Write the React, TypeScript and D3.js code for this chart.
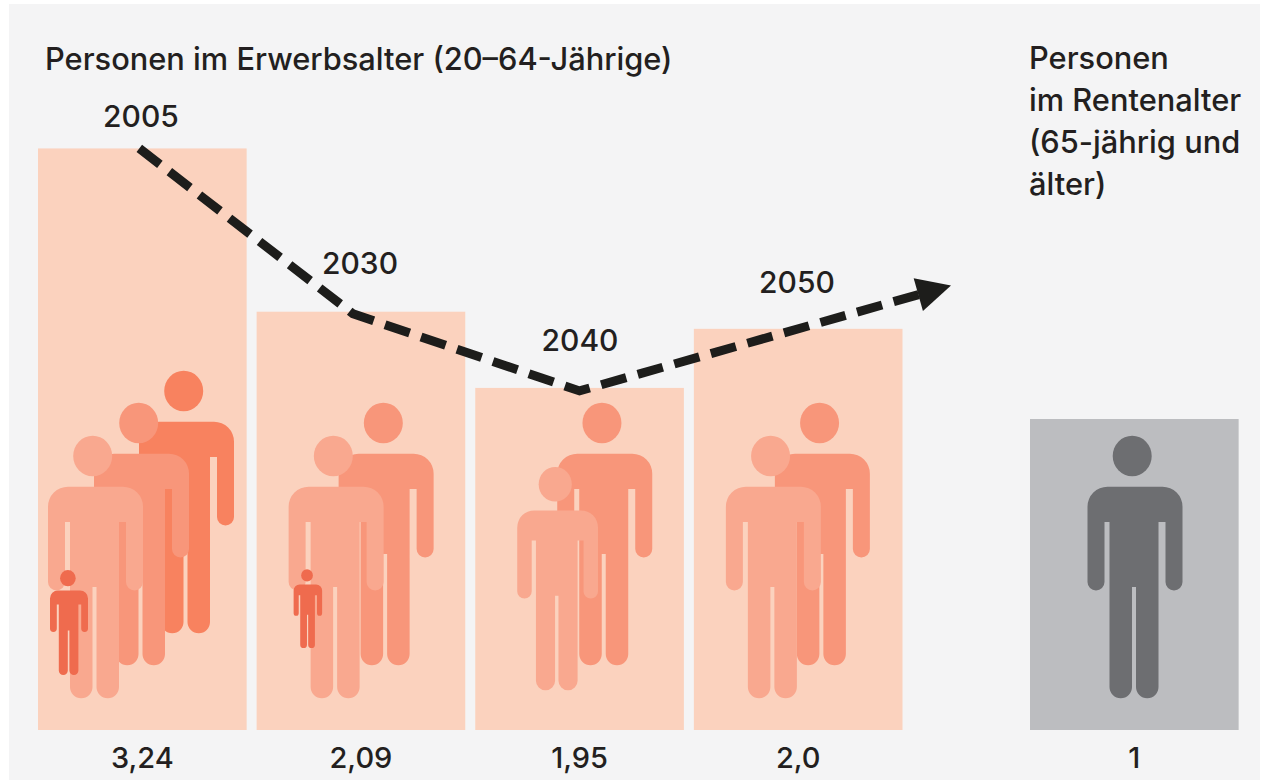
import { scaleBand, scaleLinear, line, curveLinear } from 'd3';

// Ratio of working-age persons per retiree, with the bar heights as drawn in the source
const YEARS = ['2005', '2030', '2040', '2050'];
const RATIO_LABELS = ['3,24', '2,09', '1,95', '2,0'];
const BAR_LEVELS = [1.87, 1.345, 1.1, 1.29];
const RETIREE_LEVEL = 1;
const RETIREE_LABEL = '1';
const TITLE_WORKING = 'Personen im Erwerbsalter (20–64-Jährige)';
const TITLE_RETIRED = ['Personen', 'im Rentenalter', '(65-jährig und', 'älter)'];

// Size of each pictogram in a bar, back to front
const PERSON_SIZES = [
  [1, 1, 1, 0.4],
  [1, 1, 0.3],
  [1, 0.85],
  [1, 1],
];

const WIDTH = 1262;
const HEIGHT = 782;
const BAR_BOTTOM = 730;
const UNIT_HEIGHT = 311;
const FIGURE_FOOT = 698;
const RETIREE_X = 1030;

const BG = '#f4f4f5';
const BAR_COLOR = '#fbd2be';
const GREY_BAR = '#bcbdc0';
const GREY_FIGURE = '#6d6e71';
const INK = '#231f20';
const SHADES = {
  3: ['#f8825f', '#f8967a', '#f9a88f'],
  2: ['#f8967a', '#f9a88f'],
};
const SMALL_COLOR = '#ef6b4e';
const FONT = "Inter, 'Liberation Sans', Arial, sans-serif";

// Pictogram placement inside a band: left offset and lift above the foot line
const PLACEMENT = [
  [[101, 65], [56, 33], [10, 0], [12, 23]],
  [[82, 33], [32, 0], [37, 50]],
  [[82, 33], [42, 8]],
  [[81, 33], [32, 0]],
];

// One person, 95 wide and 262 tall at size 1
const BODY =
  'M20 50.7H75a20 20 0 0 1 20 20V146a8.5 8.5 0 0 1-17 0V86h-7V251a11.25 11.25 0 0 1-22.5 0V151h-4V251a11.25 11.25 0 0 1-22.5 0V86H17V146a8.5 8.5 0 0 1-17 0V70.7a20 20 0 0 1 20-20Z';

function Person({ x, foot, size, fill }: { x: number; foot: number; size: number; fill: string }) {
  return (
    <g transform={`translate(${x},${foot - 262 * size}) scale(${size})`} fill={fill}>
      <ellipse cx={44.7} cy={20} rx={19.5} ry={20.3} />
      <path d={BODY} />
    </g>
  );
}

export default function App() {
  const x = scaleBand<string>().domain(YEARS).range([38, 902.5]).paddingInner(0.0457);
  const y = scaleLinear().domain([0, 1]).range([BAR_BOTTOM, BAR_BOTTOM - UNIT_HEIGHT]);
  const bw = x.bandwidth();

  // Trend runs over the bar tops, then carries on past the last bar to the arrow
  const pts: [number, number][] = YEARS.map((yr, i) => [
    x(yr)! + bw / 2 + (i === 0 ? -3 : i === 1 ? -8 : 0),
    y(BAR_LEVELS[i]) + (i === 1 ? 2 : i === 2 ? 3 : 0),
  ]);
  const [x0, y0] = pts[2];
  const [x1, y1] = pts[3];
  const slope = (y1 - y0) / (x1 - x0);
  const endX = 926;
  const trend = [...pts.slice(0, 3), [endX, y0 + slope * (endX - x0)] as [number, number]];
  const trendPath = line().curve(curveLinear)(trend) ?? '';
  const angle = (Math.atan(slope) * 180) / Math.PI;
  const [ax, ay] = trend[trend.length - 1];

  const text = { fontFamily: FONT, fontWeight: 500, fill: INK } as const;

  return (
    <svg
      width={WIDTH}
      height={HEIGHT}
      style={{ position: 'absolute', left: 0, top: 0, display: 'block' }}
    >
      <rect width={WIDTH} height={HEIGHT} fill="#ffffff" />
      <rect x={9} y={4} width={WIDTH - 11} height={HEIGHT - 6} fill={BG} />

      {YEARS.map((yr, i) => {
        const bx = x(yr)!;
        const sizes = PERSON_SIZES[i];
        const full = sizes.filter((s) => s >= 0.5).length;
        return (
          <g key={yr}>
            <rect
              x={bx}
              y={y(BAR_LEVELS[i])}
              width={bw}
              height={y(0) - y(BAR_LEVELS[i])}
              fill={BAR_COLOR}
            />
            {sizes.map((s, j) => (
              <Person
                key={j}
                x={bx + PLACEMENT[i][j][0]}
                foot={FIGURE_FOOT - PLACEMENT[i][j][1]}
                size={s}
                fill={s < 0.5 ? SMALL_COLOR : SHADES[full as 2 | 3][j]}
              />
            ))}
            <text x={bx + bw / 2} y={768} textAnchor="middle" fontSize={29} {...text}>
              {RATIO_LABELS[i]}
            </text>
          </g>
        );
      })}

      <rect
        x={RETIREE_X}
        y={y(RETIREE_LEVEL)}
        width={bw}
        height={y(0) - y(RETIREE_LEVEL)}
        fill={GREY_BAR}
      />
      <Person x={RETIREE_X + 57.5} foot={FIGURE_FOOT} size={1} fill={GREY_FIGURE} />
      <text x={RETIREE_X + bw / 2} y={768} textAnchor="middle" fontSize={29} {...text}>
        {RETIREE_LABEL}
      </text>

      <path d={trendPath} fill="none" stroke="#1d1d1b" strokeWidth={9} strokeDasharray="26 12" />
      <path
        d="M-8 -17L26 0L-8 17Z"
        transform={`translate(${ax},${ay}) rotate(${angle})`}
        fill="#1d1d1b"
      />

      <text x={45} y={70} fontSize={30.8} {...text}>
        {TITLE_WORKING}
      </text>
      {TITLE_RETIRED.map((t, i) => (
        <text key={t} x={1029} y={69 + i * 42} fontSize={30.8} {...text}>
          {t}
        </text>
      ))}

      {[
        [141, 127],
        [360, 274],
        [580, 351],
        [797, 293],
      ].map(([lx, ly], i) => (
        <text key={i} x={lx} y={ly} textAnchor="middle" fontSize={30} {...text}>
          {YEARS[i]}
        </text>
      ))}
    </svg>
  );
}
